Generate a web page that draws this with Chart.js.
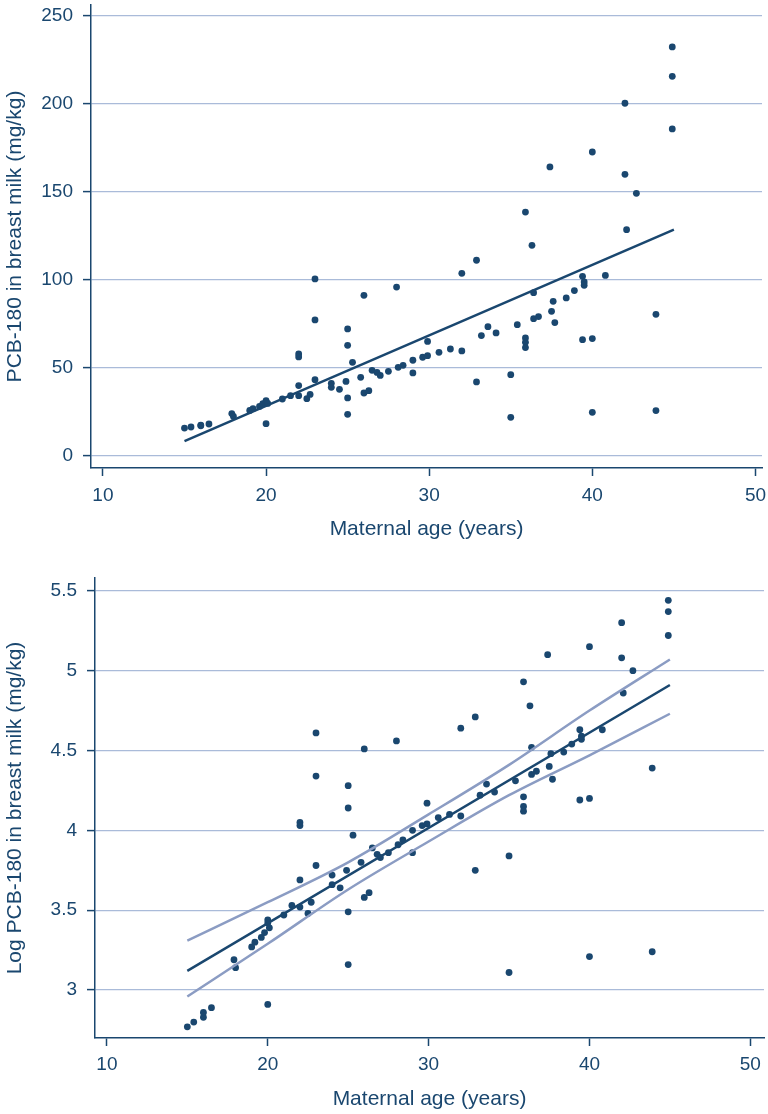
<!DOCTYPE html>
<html>
<head>
<meta charset="utf-8">
<script src="https://cdn.jsdelivr.net/npm/chart.js@4.4.0/dist/chart.umd.min.js"></script>
<style>
  html, body { margin: 0; padding: 0; background: #fff; }
  .box { position: absolute; left: 0; width: 768px; height: 557px; }
  #topBox { top: 0; }
  #bottomBox { top: 557px; }
</style>
</head>
<body>
<div class="box" id="topBox"><canvas id="topChart"></canvas></div>
<div class="box" id="bottomBox"><canvas id="bottomChart"></canvas></div>
<script>
// maternal age for each mother (years)
const ages = [15.0, 15.4, 16.0, 16.0, 16.5, 17.9, 18.0, 19.0, 19.2, 19.6,
  19.8, 20.0, 20.0, 20.1, 20.0, 21.0, 21.5, 22.0, 22.0, 22.0,
  22.0, 22.5, 22.7, 23.0, 23.0, 23.0, 24.0, 24.0, 24.5, 24.9,
  25.0, 25.0, 25.0, 25.0, 25.3, 25.8, 26.0, 26.0, 26.3, 26.5,
  26.8, 27.0, 27.5, 28.0, 28.1, 28.4, 29.0, 29.0, 29.6, 29.9,
  29.9, 30.6, 31.3, 32.0, 32.0, 32.9, 32.9, 33.2, 33.6, 34.1,
  35.0, 35.0, 35.4, 35.9, 35.9, 35.9, 35.9, 36.3, 36.4, 36.4,
  36.7, 37.4, 37.5, 37.6, 37.7, 38.4, 38.9, 39.4, 39.4, 39.5,
  39.5, 40.0, 40.0, 40.0, 40.8, 42.0, 42.0, 42.1, 42.7, 43.9,
  43.9, 44.9, 44.9, 44.9];

// PCB-180 in breast milk (mg/kg)
const pcb = [15.7, 16.3, 17.0, 17.4, 18.0, 23.9, 22.3, 25.7, 26.7, 28.0,
  29.5, 31.2, 30.6, 29.7, 18.2, 32.2, 34.1, 57.8, 56.1, 39.8,
  34.1, 32.4, 34.8, 100.4, 77.1, 43.2, 38.8, 41.1, 37.7, 42.2,
  72.0, 62.7, 32.8, 23.5, 53.0, 44.5, 91.1, 35.6, 36.9, 48.5,
  47.3, 45.6, 47.9, 95.8, 50.2, 51.3, 54.2, 47.0, 55.9, 64.9,
  56.8, 58.7, 60.6, 59.5, 103.6, 111.0, 41.9, 68.2, 73.3, 69.7,
  46.0, 21.8, 74.4, 138.4, 66.9, 64.4, 61.4, 119.5, 92.6, 77.8,
  79.0, 164.0, 82.0, 87.7, 75.6, 89.6, 93.8, 101.9, 65.9, 98.7,
  96.8, 172.5, 66.5, 24.6, 102.4, 200.2, 159.8, 128.4, 149.0, 80.3,
  25.6, 232.2, 215.5, 185.6];

// log PCB-180
const logPcb = [2.77, 2.80, 2.83, 2.86, 2.89, 3.19, 3.14, 3.27, 3.30, 3.33,
  3.36, 3.44, 3.42, 3.39, 2.91, 3.47, 3.53, 4.05, 4.03, 3.69,
  3.52, 3.48, 3.55, 4.61, 4.34, 3.78, 3.66, 3.72, 3.64, 3.75,
  4.28, 4.14, 3.49, 3.16, 3.97, 3.80, 4.51, 3.58, 3.61, 3.89,
  3.85, 3.83, 3.86, 4.56, 3.91, 3.94, 4.00, 3.86, 4.03, 4.17,
  4.04, 4.08, 4.10, 4.09, 4.64, 4.71, 3.75, 4.22, 4.29, 4.24,
  3.84, 3.11, 4.31, 4.93, 4.21, 4.15, 4.12, 4.78, 4.52, 4.35,
  4.37, 5.10, 4.40, 4.48, 4.32, 4.49, 4.54, 4.63, 4.19, 4.57,
  4.59, 5.15, 4.20, 3.21, 4.63, 5.30, 5.08, 4.86, 5.00, 4.39,
  3.24, 5.44, 5.37, 5.22];

// fitted lines
const fitAges = [15, 45];
const fitPcb = [8.3, 128.4];
const fitLog = [3.12, 4.91];

// confidence band of the log fit
const ciAges = [15, 20, 25, 30, 35, 40, 45];
const ciUpper = [3.31, 3.55, 3.80, 4.10, 4.41, 4.75, 5.07];
const ciLower = [2.96, 3.29, 3.63, 3.93, 4.22, 4.47, 4.73];

// tick labels
const xTicks = [10, 20, 30, 40, 50];
const yTicksTop = [0, 50, 100, 150, 200, 250];
const yTicksBottom = [3, 3.5, 4, 4.5, 5, 5.5];

const navy = "#1a476f";
const gridCol = "#aabbd9";
const ciCol = "#8b9cc3";
const fontFamily = "'Liberation Sans', Arial, sans-serif";

function pairs(xs, ys) {
  return xs.map((x, i) => ({ x: x, y: ys[i] }));
}

function makeChart(id, opts) {
  const ctx = document.getElementById(id).getContext("2d");
  const datasets = [
    {
      type: "scatter",
      data: pairs(ages, opts.values),
      backgroundColor: navy,
      borderWidth: 0,
      pointRadius: 3.4,
      order: 3,
    },
    {
      type: "line",
      data: pairs(fitAges, opts.fit),
      borderColor: navy,
      borderWidth: 2.5,
      pointRadius: 0,
      fill: false,
      order: 1,
    },
  ];
  if (opts.upper) {
    datasets.push({
      type: "line",
      data: pairs(ciAges, opts.upper),
      borderColor: ciCol,
      borderWidth: 2.5,
      pointRadius: 0,
      cubicInterpolationMode: "monotone",
      fill: false,
      order: 2,
    });
    datasets.push({
      type: "line",
      data: pairs(ciAges, opts.lower),
      borderColor: ciCol,
      borderWidth: 2.5,
      pointRadius: 0,
      cubicInterpolationMode: "monotone",
      fill: false,
      order: 2,
    });
  }

  return new Chart(ctx, {
    type: "scatter",
    data: { datasets: datasets },
    options: {
      responsive: true,
      maintainAspectRatio: false,
      animation: false,
      layout: { padding: opts.padding },
      plugins: { legend: { display: false }, tooltip: { enabled: false } },
      scales: {
        x: {
          type: "linear",
          min: opts.xMin,
          max: opts.xMax,
          afterBuildTicks: (axis) => {
            axis.ticks = xTicks.map((v) => ({ value: v }));
          },
          afterFit: (axis) => {
            axis.height = opts.xHeight;
            axis.paddingLeft = 0;
            axis.paddingRight = 0;
          },
          border: { color: navy, width: 1.5 },
          grid: { drawOnChartArea: false, color: navy, tickColor: navy, tickLength: 8, tickWidth: 1.5 },
          ticks: {
            color: navy,
            padding: opts.xTickPad,
            maxRotation: 0,
            font: { family: fontFamily, size: 19 },
          },
          title: {
            display: true,
            text: "Maternal age (years)",
            color: navy,
            padding: { top: 0, bottom: opts.xTitlePad },
            font: { family: fontFamily, size: 21 },
          },
        },
        y: {
          type: "linear",
          min: opts.yMin,
          max: opts.yMax,
          afterBuildTicks: (axis) => {
            axis.ticks = opts.yTicks.map((v) => ({ value: v }));
          },
          afterFit: (axis) => {
            axis.width = opts.yWidth;
            axis.paddingTop = 0;
            axis.paddingBottom = 0;
          },
          border: { color: navy, width: 1.5 },
          grid: { color: gridCol, lineWidth: 1.2, tickColor: navy, tickLength: 8, tickWidth: 1.5 },
          ticks: {
            color: navy,
            padding: 10,
            font: { family: fontFamily, size: 19 },
            callback: (v) => String(v),
          },
          title: {
            display: true,
            text: opts.yTitle,
            color: navy,
            padding: { top: 3, bottom: 0 },
            font: { family: fontFamily, size: 21 },
          },
        },
      },
    },
  });
}

makeChart("topChart", {
  values: pcb,
  fit: fitPcb,
  xMin: 9.27,
  xMax: 50.4,
  yMin: -7,
  yMax: 256,
  yTicks: yTicksTop,
  yTitle: "PCB-180 in breast milk (mg/kg)",
  yWidth: 91,
  xHeight: 89,
  xTickPad: 8,
  xTitlePad: 15,
  padding: { top: 5, right: 6, left: 0, bottom: 0 },
});

makeChart("bottomChart", {
  values: logPcb,
  fit: fitLog,
  upper: ciUpper,
  lower: ciLower,
  xMin: 9.26,
  xMax: 50.85,
  yMin: 2.7,
  yMax: 5.58,
  yTicks: yTicksBottom,
  yTitle: "Log PCB-180 in breast milk (mg/kg)",
  yWidth: 95,
  xHeight: 76,
  xTickPad: 7,
  xTitlePad: 2,
  padding: { top: 21, right: 3, left: 0, bottom: 0 },
});
</script>
</body>
</html>
